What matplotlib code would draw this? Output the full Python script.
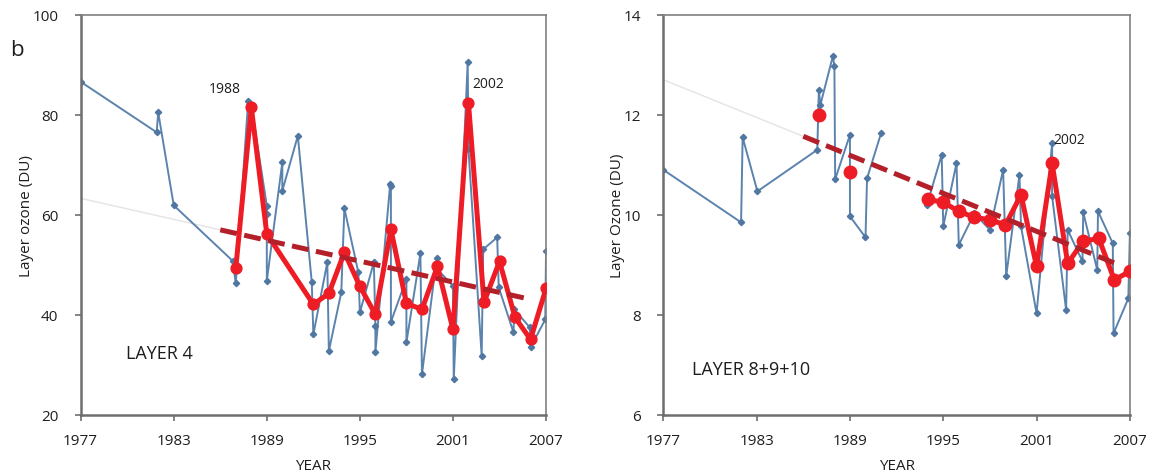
import numpy as np
import matplotlib
matplotlib.use("Agg")
import matplotlib.pyplot as plt

plt.rcParams['font.family'] = ['Open Sans', 'DejaVu Sans']

# Layer 4: individual soundings (blue) and annual means (red)
blue_years_l = [1977.0, 1981.9, 1982.0, 1983.0, 1986.8, 1987.0, 1987.8, 1988.0,
                1989.0, 1989.0, 1989.0, 1990.0, 1990.0, 1991.0, 1991.9, 1992.0,
                1992.9, 1993.0, 1993.8, 1994.0, 1994.9, 1995.0, 1995.9, 1996.0,
                1996.0, 1996.95, 1997.0, 1997.0, 1998.0, 1998.0, 1998.9, 1999.0,
                1999.95, 2000.0, 2001.0, 2001.05, 2001.95, 2002.0, 2002.85, 2002.95,
                2003.85, 2003.95, 2004.9, 2004.95, 2005.95, 2006.0, 2006.95, 2007.0]
blue_vals_l = [86.6, 76.5, 80.5, 61.9, 50.8, 46.3, 82.8, 82.0,
               61.8, 60.1, 46.8, 70.5, 64.8, 75.8, 46.5, 36.1,
               50.5, 32.8, 44.5, 61.3, 48.5, 40.5, 50.5, 37.8,
               32.5, 66.1, 65.8, 38.6, 47.2, 34.5, 52.3, 28.1,
               51.3, 49.1, 45.8, 27.1, 90.5, 73.1, 31.8, 53.1,
               55.5, 45.5, 36.5, 41.1, 37.5, 33.5, 39.1, 52.8]
red_years_l = [1987, 1988, 1989, 1992, 1993, 1994, 1995, 1996, 1997, 1998,
               1999, 2000, 2001, 2002, 2003, 2004, 2005, 2006, 2007]
red_vals_l = [49.3, 81.5, 56.2, 42.1, 44.3, 52.5, 45.7, 40.1, 57.1, 42.3,
              41.1, 49.7, 37.1, 82.3, 42.5, 50.7, 39.5, 35.1, 45.3]
trend_years_l = [1986.0, 2006.0]
trend_vals_l = [57.0, 43.1]
ext_years_l = [1977.0, 1986.0]
ext_vals_l = [63.3, 57.0]

# Layers 8+9+10 (gap in the record between 1991 and 1994)
blue_years_r = [1977.0, 1982.0, 1982.1, 1983.05, 1986.9, 1987.0, 1987.1, 1987.9,
                1988.0, 1988.05, 1989.0, 1989.0, 1990.0, 1990.1, 1991.0, np.nan,
                1993.95, 1994.9, 1995.0, 1995.85, 1996.0, 1997.0, 1998.0, 1998.85,
                1999.05, 1999.9, 2000.0, 2001.0, 2002.0, 2002.0, 2002.9, 2003.0,
                2003.95, 2004.0, 2004.9, 2004.95, 2005.9, 2005.95, 2006.9, 2007.0]
blue_vals_r = [10.9, 9.85, 11.55, 10.47, 11.3, 12.5, 12.2, 13.17,
               12.97, 10.71, 11.6, 9.97, 9.55, 10.73, 11.63, np.nan,
               10.2, 11.2, 9.77, 11.03, 9.4, 10.03, 9.7, 10.9,
               8.78, 10.8, 9.77, 8.03, 11.43, 10.37, 8.1, 9.7,
               9.07, 10.05, 8.9, 10.07, 9.43, 7.63, 8.33, 9.63]
red_years_r = [1987, np.nan, 1989, np.nan, 1994, 1995, 1996, 1997, 1998, 1999,
               2000, 2001, 2002, 2003, 2004, 2005, 2006, 2007]
red_vals_r = [12.0, np.nan, 10.85, np.nan, 10.31, 10.25, 10.07, 9.95, 9.9, 9.8,
              10.4, 8.97, 11.03, 9.03, 9.47, 9.53, 8.7, 8.87]
trend_years_r = [1986.0, 2006.3]
trend_vals_r = [11.57, 9.0]
ext_years_r = [1977.0, 1986.0]
ext_vals_r = [12.7, 11.57]

xticks = [1977, 1983, 1989, 1995, 2001, 2007]
yticks_l = [20, 40, 60, 80, 100]
yticks_r = [6, 8, 10, 12, 14]

BLUE = '#5b83ad'
RED = '#ee1c25'
DARKRED = '#b3202a'
SPINE = '#6e6e6e'
TXT = '#1e1e1e'


def draw_panel(ax, by, bv, ry, rv, ty, tv, ey, ev, yticks, ylabel, msize):
    ax.plot(ey, ev, color='#e4e4e4', lw=1.0, zorder=1)
    ax.plot(by, bv, color=BLUE, lw=1.4, marker='D', markersize=3.2,
            markerfacecolor='#4f77a2', markeredgecolor='#4f77a2', zorder=2)
    ax.plot(ry, rv, color=RED, lw=3.6, marker='o', markersize=msize,
            markeredgecolor=RED, zorder=3)
    ax.plot(ty, tv, color=DARKRED, lw=3.6, dashes=(3.4, 1.5), zorder=4)

    ax.set_xlim(1977, 2007)
    ax.set_ylim(yticks[0], yticks[-1])
    ax.set_xticks(xticks)
    ax.set_yticks(yticks)
    ax.tick_params(direction='out', length=4, width=1.2, color=SPINE,
                   labelsize=11, labelcolor=TXT)
    ax.tick_params(axis='x', pad=9)
    ax.tick_params(axis='y', pad=12)
    for side in ['left', 'bottom']:
        ax.spines[side].set_color(SPINE)
        ax.spines[side].set_linewidth(1.8)
    for side in ['top', 'right']:
        ax.spines[side].set_color('#808080')
        ax.spines[side].set_linewidth(1.2)
    ax.set_xlabel('YEAR', fontsize=11, color=TXT, labelpad=7)
    ax.set_ylabel(ylabel, fontsize=11, color=TXT, labelpad=-1)


fig = plt.figure(figsize=(11.52, 4.77), dpi=100)
ax1 = fig.add_axes([0.070, 0.128, 0.404, 0.839])
ax2 = fig.add_axes([0.5758, 0.128, 0.405, 0.839])

draw_panel(ax1, blue_years_l, blue_vals_l, red_years_l, red_vals_l,
           trend_years_l, trend_vals_l, ext_years_l, ext_vals_l,
           yticks_l, 'Layer ozone (DU)', 7.8)
draw_panel(ax2, blue_years_r, blue_vals_r, red_years_r, red_vals_r,
           trend_years_r, trend_vals_r, ext_years_r, ext_vals_r,
           yticks_r, 'Layer Ozone (DU)', 9.0)

ax1.text(1986.3, 85.2, '1988', fontsize=10, ha='center', va='center', color=TXT)
ax1.text(2003.3, 86.3, '2002', fontsize=10, ha='center', va='center', color=TXT)
ax1.text(1979.9, 32.3, 'LAYER 4', fontsize=13, ha='left', va='center', color=TXT)
ax2.text(2003.1, 11.5, '2002', fontsize=10, ha='center', va='center', color=TXT)
ax2.text(1978.85, 6.92, 'LAYER 8+9+10', fontsize=13, ha='left', va='center', color=TXT)

fig.text(0.009, 0.895, 'b', fontsize=16, color=TXT, va='center')

fig.savefig('out.png', dpi=100)
